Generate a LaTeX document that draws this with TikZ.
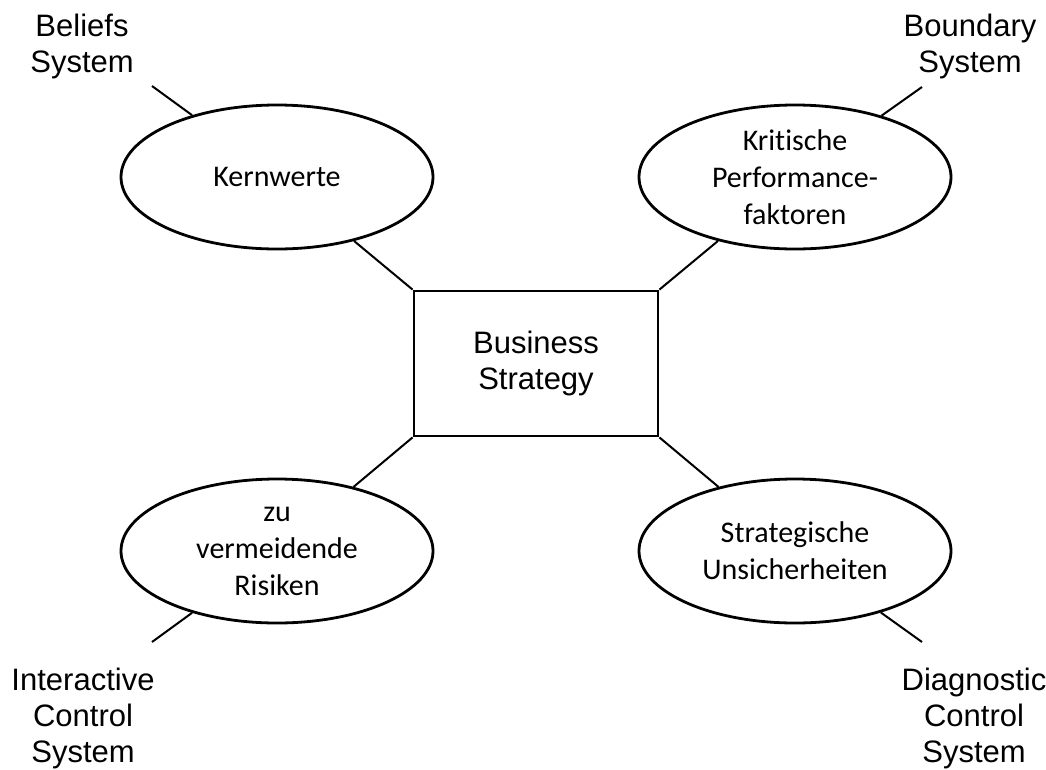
\documentclass[tikz,border=0pt]{standalone}
\usepackage{fontspec}
\setmainfont{Liberation Sans}
\newfontfamily\calibrifont[Ligatures=NoCommon]{Carlito}
\usetikzlibrary{shapes.geometric}
\tikzset{
  label text/.style={align=center, font=\fontsize{31}{36}\selectfont},
  lever/.style={draw, ellipse, line width=2.8pt, minimum width=312pt, minimum height=144pt,
    inner sep=0pt, align=center, font=\calibrifont\fontsize{30}{37}\selectfont},
  core/.style={draw, rectangle, line width=2.8pt, minimum width=244pt, minimum height=145pt,
    inner sep=0pt, align=center, font=\fontsize{31}{36}\selectfont},
  link/.style={line width=2pt}
}
\begin{document}
\begin{tikzpicture}[x=1pt, y=-1pt]
  \useasboundingbox (0,0) rectangle (1046,769);

  % central strategy box
  \node[core] (bs) at (536,363.5) {Business\\Strategy};

  % the four levers
  \node[lever] (kw) at (277,177) {Kernwerte};
  \node[lever] (kp) at (795,177) {Kritische\\Performance-\\faktoren};
  \node[lever] (zr) at (277,551) {zu\\vermeidende\\Risiken};
  \node[lever] (su) at (795,551) {Strategische\\Unsicherheiten};

  % system labels
  \node[label text] (belief) at (82,46) {Beliefs\\System};
  \node[label text] (bound) at (970,46) {Boundary\\System};
  \node[label text] (inter) at (83,718) {Interactive\\Control\\System};
  \node[label text] (diag) at (974,718) {Diagnostic\\Control\\System};

  % free ends of the outer connectors
  \coordinate (beliefEnd) at (152,86);
  \coordinate (boundEnd) at (922,87);
  \coordinate (interEnd) at (152,642);
  \coordinate (diagEnd) at (922,642);

  % connectors
  \draw[link] (beliefEnd) -- (kw);
  \draw[link] (kw) -- (bs.north west);
  \draw[link] (boundEnd) -- (kp);
  \draw[link] (kp) -- (bs.north east);
  \draw[link] (interEnd) -- (zr);
  \draw[link] (zr) -- (bs.south west);
  \draw[link] (diagEnd) -- (su);
  \draw[link] (su) -- (bs.south east);
\end{tikzpicture}
\end{document}
